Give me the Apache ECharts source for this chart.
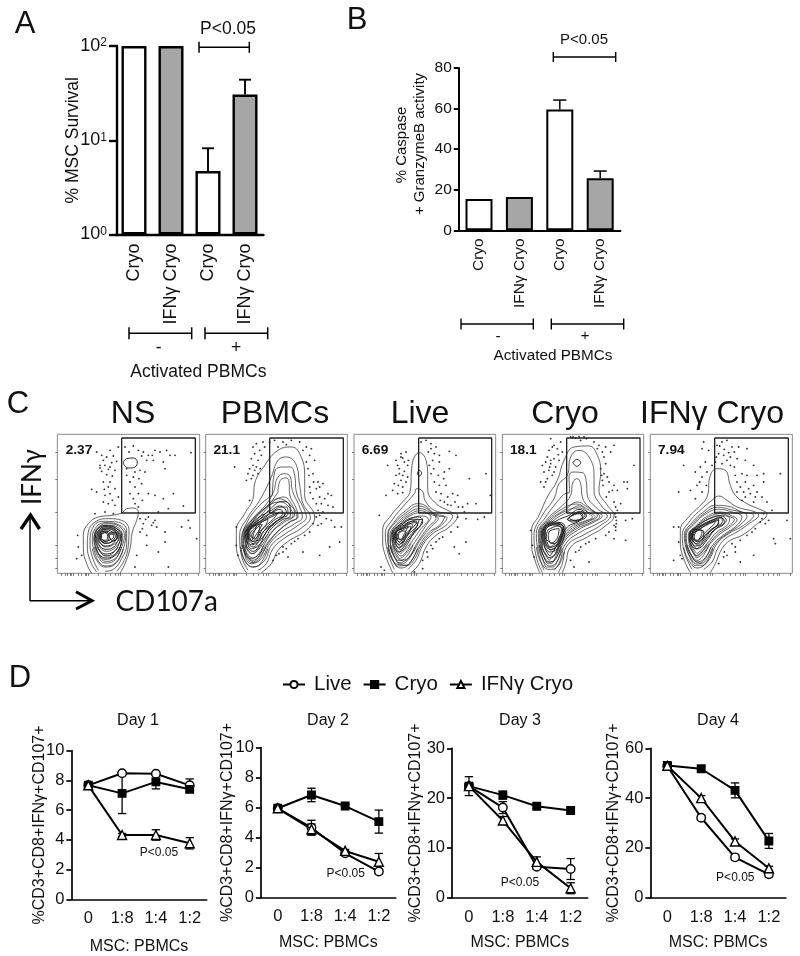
<!DOCTYPE html>
<html><head><meta charset="utf-8">
<style>html,body{margin:0;padding:0;background:#fff}#c{width:800px;height:956px}</style>
<script src="https://cdn.jsdelivr.net/npm/echarts@6/dist/echarts.min.js"></script>
</head><body><div id="c"></div>
<script>
// ---------- Panel A / B ----------
const barCats = ['Cryo','IFNγ Cryo','Cryo','IFNγ Cryo'];
const survival = [100,100,4.72,30.5];
const survivalErr = [0,0,3.5,13.4];
const caspase = [15.4,16.4,59.6,25.7];
const caspaseErr = [0,0,4.6,3.5];
const barFills = ['#ffffff','#a6a6a6','#ffffff','#a6a6a6'];
// ---------- Panel D ----------
const ratios = ['0','1:8','1:4','1:2'];
const d1Live=[7.67,8.48,8.45,7.67], d1LiveErr=[0.1,0.05,0.05,0.43];
const d1Cryo=[7.67,7.13,7.9,7.4],  d1CryoErr=[0.1,1.36,0.47,0.2];
const d1Ifn =[7.67,4.33,4.33,3.77], d1IfnErr=[0.1,0.1,0.35,0.38];
const d2Live=[5.95,4.65,2.94,1.72], d2LiveErr=[0.1,0.5,0.1,0.15];
const d2Cryo=[5.95,6.84,6.1,5.06],  d2CryoErr=[0.1,0.45,0.1,0.77];
const d2Ifn =[5.95,4.55,3.1,2.38],  d2IfnErr=[0.1,0.35,0.1,0.55];
const d3Live=[22.4,18.1,6.2,5.76],  d3LiveErr=[1.9,1.2,0.5,2.1];
const d3Cryo=[22.4,20.6,18.35,17.5],d3CryoErr=[0.5,0.8,0.5,0.5];
const d3Ifn =[22.4,15.5,7.2,1.9],   d3IfnErr=[0.5,0.8,1,1.1];
const d4Live=[52.9,32.1,16.2,9.4],  d4LiveErr=[1,1,1,1];
const d4Cryo=[53.1,51.8,43.1,22.8], d4CryoErr=[1,1,3,3];
const d4Ifn =[53,40,22.6,11.8],     d4IfnErr=[1,1,1,0.8];
// ---------- Panel C: flow cytometry channels ----------
const flowTickX=[20,30,38,45,50,55,70,80,90,95,100,130,150,165,180,190,197,230,250,265,280,290,295,330,350,365,380,390,396,430];
const flowTickY=[60,142,240,340,380,410];
const gateNS=[[200,18],[421,18],[421,243],[200,243],[200,18]];
const gatePB=[[200,18],[421,18],[421,243],[200,243],[200,18]];
const gateLive=[[203,18],[422,18],[422,243],[203,243],[203,18]];
const gateCryo=[[203,18],[423,18],[423,243],[203,243],[203,18]];
const gateIfn=[[203,18],[424,18],[424,243],[203,243],[203,18]];
const arcsNS=[[[112,350],[125,385],[150,405],[178,398],[205,350]],[[118,345],[130,375],[150,393],[175,388],[200,345]],[[122,345],[133,370],[150,382],[172,376],[195,345]],[[126,345],[136,360],[150,372],[170,366],[190,345]]];
const arcsPB=[[[112,345],[125,385],[150,405],[172,395],[195,350]],[[118,340],[130,375],[150,392],[168,382],[188,345]],[[122,340],[133,365],[150,378],[165,368],[182,340]],[[126,340],[136,355],[150,365],[162,355],[176,335]]];
const arcsLive=[[[110,345],[125,385],[150,408],[175,395],[200,350]],[[116,340],[130,375],[150,396],[172,382],[192,345]],[[120,340],[133,368],[150,385],[168,372],[186,340]],[[125,340],[136,358],[150,372],[165,360],[180,335]]];
const arcsCryo=[[[112,345],[125,390],[150,412],[175,405],[195,360]],[[118,340],[130,380],[152,402],[172,392],[190,350]],[[122,340],[134,372],[153,390],[170,380],[186,345]],[[126,340],[138,362],[154,378],[168,368],[182,340]]];
const arcsIfn=[[[110,345],[125,385],[150,408],[175,395],[198,350]],[[116,340],[130,375],[150,396],[172,384],[192,345]],[[120,340],[133,368],[150,385],[168,372],[186,340]],[[125,340],[136,358],[150,372],[165,360],[180,335]]];
const contoursNS=[
[[110,424],[95,395],[85,350],[85,310],[100,275],[130,255],[170,250],[200,243],[215,230],[235,228],[250,240],[245,265],[232,300],[225,350],[210,395],[195,424]],
[[125,420],[105,385],[97,340],[100,300],[120,270],[160,260],[200,265],[222,295],[220,340],[208,385],[185,418]],
[[130,415],[112,375],[105,330],[112,290],[140,268],[185,270],[215,295],[215,335],[200,380],[175,412],[150,418]],
[[122,370],[112,325],[120,290],[150,272],[190,278],[212,305],[205,350],[185,390],[150,402],[132,390]],
[[125,350],[118,315],[130,285],[160,275],[195,285],[208,310],[198,350],[180,380],[150,388]],
[[128,340],[122,310],[135,285],[165,280],[195,292],[202,315],[190,355],[165,372],[140,365]],
[[130,330],[127,305],[140,288],[168,283],[192,297],[197,318],[182,345],[155,358],[138,350]],
[[133,325],[130,303],[145,290],[170,287],[188,300],[192,318],[175,338],[150,345]],
[[135,318],[134,303],[150,292],[172,291],[184,302],[186,316],[170,330],[148,334]],
[[128,362],[150,378],[178,372],[195,345],[200,310],[185,290],[150,280],[125,295],[117,325]],
[[131,350],[150,366],[175,360],[192,335],[196,312],[180,293],[150,284],[128,298],[121,322]],
[[134,342],[150,352],[172,348],[188,328],[192,312],[176,296],[150,288],[131,302],[125,320]],
[[137,335],[152,342],[170,338],[184,322],[187,312],[172,300],[150,293],[135,304],[129,318]],
[[139,328],[152,334],[168,330],[180,318],[182,310],[168,303],[150,297],[138,306],[133,317]],
[[141,322],[150,328],[165,324],[176,315],[177,309],[165,306],[150,301],[141,308],[137,315]],
[[137,322],[136,305],[148,298],[160,305],[162,320],[150,330]],
[[140,320],[139,307],[148,302],[157,308],[158,320],[148,325]],
[[163,310],[175,300],[188,308],[185,322],[170,325]],
[[205,90],[215,80],[235,78],[247,90],[240,105],[222,108],[208,100]]];
const dotsNS=[[125,60],[190,45],[165,55],[140,70],[155,75],[175,72],[185,88],[170,92],[135,100],[150,100],[165,105],[180,115],[140,118],[155,128],[145,150],[165,150],[160,165],[180,170],[110,172],[125,180],[150,190],[165,185],[190,195],[145,210],[160,215],[180,220],[150,240],[175,245],[120,245],[210,45],[235,42],[250,55],[265,60],[280,70],[300,55],[315,60],[335,55],[345,70],[360,70],[408,62],[275,85],[295,85],[325,90],[330,110],[255,115],[270,120],[215,130],[235,135],[260,155],[240,165],[225,185],[250,185],[280,185],[300,190],[325,200],[355,185],[240,215],[250,225],[385,222],[340,230],[310,240],[215,110],[255,260],[280,255],[300,265],[265,275],[290,280],[305,285],[255,300],[275,310],[330,300],[330,330],[380,285],[400,265],[405,288],[425,320],[310,360],[275,340],[68,310],[70,345],[65,380],[80,370],[245,370],[240,405],[340,405],[145,85],[160,112],[172,132],[148,172],[172,205],[135,108],[222,60],[260,72],[292,70],[240,120],[225,150],[252,140],[235,200],[262,205],[272,262],[295,272],[262,290]];
const contoursPB=[
[[130,422],[112,390],[100,340],[100,295],[125,245],[150,200],[155,155],[185,100],[225,55],[265,45],[290,65],[305,130],[305,190],[335,255],[310,295],[260,325],[225,355],[205,395],[175,422]],
[[135,415],[115,370],[110,310],[135,255],[170,205],[205,135],[225,85],[250,75],[278,95],[290,160],[300,215],[322,255],[295,288],[245,318],[210,350],[190,395],[165,415]],
[[208,190],[215,120],[235,105],[262,105],[275,130],[280,180],[305,235],[310,255],[285,280],[240,310],[205,340],[185,385],[150,405],[125,385],[115,330],[125,285],[165,225]],
[[215,170],[225,135],[245,125],[262,135],[268,175],[290,225],[298,255],[275,275],[235,300],[200,335],[175,380],[145,395],[125,365],[122,310],[150,260],[195,210]],
[[225,180],[232,145],[250,138],[258,150],[260,185],[280,230],[285,255],[262,268],[228,295],[195,330],[170,365],[145,380],[128,350],[128,305],[155,262],[200,215]],
[[130,372],[118,335],[120,300],[145,265],[190,225],[225,200],[268,225],[282,255],[258,272],[225,298],[195,335],[172,370],[148,385]],
[[215,205],[240,195],[265,215],[275,250],[250,262],[220,285],[190,320],[165,355],[145,365],[130,335],[133,300],[165,260]],
[[138,378],[122,345],[124,305],[150,265],[195,222],[232,210],[258,225],[270,252],[245,270],[212,295],[185,335],[168,372],[150,390]],
[[225,210],[245,208],[262,230],[262,250],[235,265],[205,290],[185,320],[160,345],[145,350],[133,325],[138,295],[170,262],[205,228]],
[[228,225],[250,225],[255,245],[228,262],[200,285],[180,315],[158,335],[143,338],[136,318],[142,292],[175,265],[210,238]],
[[132,345],[125,315],[132,290],[165,258],[205,235],[230,222],[250,240],[225,265],[190,300],[172,335],[150,358]],
[[135,335],[128,312],[136,288],[170,262],[210,240],[232,232],[240,244],[212,266],[182,298],[168,325],[150,345]],
[[138,325],[131,310],[140,288],[172,268],[210,248],[225,244],[210,262],[178,292],[165,318],[150,335]],
[[140,318],[134,305],[144,288],[170,272],[195,262],[188,280],[170,300],[160,318],[148,328]],
[[143,312],[138,302],[148,288],[168,278],[178,278],[168,295],[158,310],[150,320]],
[[136,320],[134,295],[150,280],[160,282],[152,305],[146,325]],
[[148,295],[180,268],[215,250],[235,240],[245,248],[215,272],[180,300],[165,325],[148,328],[140,310]],
[[150,300],[170,280],[165,310],[155,320],[146,310]]];
const dotsPB=[[160,35],[180,30],[150,45],[170,55],[185,45],[155,65],[145,80],[165,85],[160,105],[135,125],[150,130],[165,125],[130,145],[145,140],[155,115],[140,205],[95,105],[215,25],[240,30],[265,25],[290,30],[310,45],[325,50],[320,70],[335,85],[310,90],[225,45],[315,110],[330,125],[345,150],[360,155],[320,165],[340,170],[375,185],[385,190],[350,195],[330,200],[355,215],[375,220],[390,225],[345,235],[360,240],[340,255],[370,260],[355,275],[395,285],[415,285],[345,280],[320,300],[285,320],[265,335],[250,350],[240,360],[220,370],[210,385],[380,345],[350,370],[100,340],[105,370],[300,360],[410,330],[255,375],[175,70],[150,100],[140,110],[172,110],[200,30],[250,38],[300,55],[318,130],[332,150],[350,165],[322,182],[365,200],[340,215],[350,250],[385,265],[330,275],[305,310],[275,328],[240,345],[228,365],[100,285]];
const contoursLive=[
[[125,422],[105,375],[95,330],[95,295],[120,250],[150,215],[178,175],[182,110],[190,75],[205,62],[225,85],[230,130],[230,170],[250,210],[300,240],[320,250],[295,285],[255,310],[225,345],[205,395],[180,422]],
[[130,412],[110,360],[103,305],[125,262],[155,225],[190,185],[197,170],[215,178],[222,205],[250,235],[305,252],[285,280],[245,305],[215,340],[195,385],[170,412]],
[[135,402],[115,355],[110,310],[130,270],[165,235],[200,215],[225,222],[250,245],[280,255],[265,280],[235,300],[205,340],[185,380],[165,400]],
[[132,395],[113,350],[112,308],[133,272],[168,240],[203,222],[228,230],[255,250],[288,258],[268,282],[240,302],[210,340],[190,382],[168,400]],
[[140,392],[120,345],[117,310],[138,275],[170,245],[205,230],[232,238],[255,258],[232,285],[200,330],[178,370],[160,388]],
[[138,385],[118,340],[120,308],[142,276],[175,248],[208,236],[236,246],[262,260],[240,284],[205,328],[182,368],[160,384]],
[[145,380],[125,340],[122,310],[145,278],[180,250],[210,242],[240,255],[225,280],[195,325],[170,360],[155,375]],
[[148,365],[130,335],[128,310],[150,282],[185,258],[215,252],[232,262],[210,290],[185,325],[165,350]],
[[150,355],[133,330],[132,308],[155,285],[190,265],[215,262],[205,285],[175,320],[160,342]],
[[150,345],[135,325],[135,305],[158,288],[190,272],[200,275],[170,310],[158,330]],
[[140,360],[125,330],[124,305],[148,278],[180,258],[205,255],[215,268],[190,300],[170,335],[155,355]],
[[142,348],[128,325],[127,305],[150,280],[185,262],[205,262],[195,288],[170,320],[155,342]],
[[144,338],[130,318],[131,303],[152,284],[185,268],[198,270],[172,302],[156,330]],
[[146,330],[132,315],[134,303],[155,287],[178,275],[185,280],[165,305],[152,325]],
[[136,318],[136,300],[155,290],[172,282],[160,305],[148,322]],
[[150,335],[138,320],[140,305],[160,292],[180,282],[175,300],[160,320]],
[[150,325],[142,315],[145,303],[158,297],[165,305],[158,318]],
[[205,115],[212,122],[205,132],[199,124]]];
const dotsLive=[[165,60],[150,65],[135,85],[150,75],[160,90],[170,100],[140,100],[110,100],[145,125],[155,130],[135,130],[150,145],[165,150],[130,155],[155,165],[125,175],[105,190],[140,185],[210,30],[225,25],[240,35],[240,50],[250,65],[265,70],[295,58],[315,70],[245,85],[265,90],[280,120],[295,110],[240,125],[250,150],[265,160],[285,160],[255,180],[270,185],[290,195],[305,185],[320,190],[280,210],[300,220],[335,225],[350,215],[375,215],[405,125],[418,190],[355,140],[320,255],[345,260],[380,262],[400,255],[320,285],[300,300],[275,315],[255,330],[245,350],[230,375],[215,385],[310,345],[345,330],[325,365],[90,405],[100,415],[190,420],[215,410],[85,250],[155,78],[172,85],[145,110],[160,118],[170,135],[142,160],[155,182],[232,60],[255,45],[235,100],[248,110],[262,130],[278,140],[268,205],[290,218],[312,210],[322,225],[340,240],[265,320],[240,340],[228,360]];
const contoursCryo=[
[[122,422],[108,385],[98,340],[98,295],[120,250],[145,195],[175,145],[195,85],[225,45],[270,42],[295,70],[305,120],[300,175],[325,220],[345,250],[315,285],[265,315],[215,345],[200,395],[190,422]],
[[130,422],[112,375],[105,310],[130,250],[165,200],[180,155],[205,130],[215,75],[240,55],[270,75],[285,130],[285,175],[310,225],[335,250],[305,280],[255,308],[205,340],[190,395],[178,422]],
[[135,415],[118,360],[112,305],[140,255],[178,205],[198,185],[212,180],[210,135],[222,120],[250,122],[262,150],[265,190],[295,230],[325,252],[295,275],[245,300],[200,335],[182,390],[165,415]],
[[140,405],[122,350],[118,305],[148,258],[190,220],[215,190],[222,150],[235,140],[245,155],[250,195],[280,235],[310,252],[285,270],[235,295],[195,330],[178,380],[160,405]],
[[145,395],[126,345],[124,305],[155,262],[200,232],[235,210],[260,222],[295,252],[270,268],[225,290],[190,325],[172,370],[155,395]],
[[142,390],[124,345],[121,305],[152,260],[195,228],[232,216],[265,232],[302,254],[278,270],[228,293],[192,328],[175,372],[155,390]],
[[150,385],[130,340],[130,305],[165,265],[205,240],[240,222],[270,245],[280,255],[255,268],[215,285],[185,325],[168,365]],
[[148,378],[128,340],[127,304],[160,263],[202,236],[238,228],[265,240],[288,254],[262,268],[220,288],[187,325],[170,365]],
[[152,372],[135,335],[135,300],[170,268],[210,250],[240,232],[262,252],[240,268],[205,285],[185,320],[165,355]],
[[205,262],[225,245],[245,238],[258,250],[240,265],[220,270]],
[[210,258],[240,242],[252,252],[228,266]],
[[212,255],[240,245],[250,255],[225,265],[205,262]],
[[135,340],[128,310],[135,285],[155,270],[185,272],[198,285],[195,315],[175,350],[152,360]],
[[137,335],[131,308],[138,285],[158,273],[185,276],[194,288],[190,315],[172,345],[152,352]],
[[139,328],[134,306],[141,285],[160,276],[184,279],[191,290],[185,315],[170,340],[152,346]],
[[141,322],[137,305],[144,287],[162,279],[182,283],[187,292],[180,318],[166,335]],
[[155,355],[138,325],[140,295],[155,280],[180,275],[195,290],[185,320],[170,345]],
[[152,345],[142,320],[145,298],[160,287],[178,282],[190,295],[180,320],[165,338]],
[[155,335],[148,315],[150,300],[165,292],[180,290],[178,310],[165,330]],
[[222,92],[233,82],[245,92],[233,103]]];
const dotsCryo=[[155,20],[185,30],[165,40],[150,55],[175,50],[190,60],[145,75],[165,80],[180,85],[155,95],[170,105],[130,100],[150,115],[125,150],[145,140],[135,165],[160,130],[215,15],[230,18],[255,15],[245,25],[285,30],[300,40],[320,45],[310,60],[335,60],[345,40],[320,95],[305,110],[310,145],[315,125],[330,150],[345,160],[375,150],[385,150],[405,100],[330,180],[355,175],[385,170],[345,210],[365,215],[355,235],[350,255],[352,265],[345,280],[380,265],[350,295],[320,310],[345,320],[380,325],[290,320],[270,330],[245,345],[230,360],[215,385],[225,405],[270,390],[95,295],[100,340],[105,375],[400,260],[160,45],[178,68],[155,85],[140,90],[135,120],[152,105],[165,120],[140,150],[222,15],[240,14],[262,20],[295,50],[315,75],[308,130],[325,135],[340,175],[312,160],[322,195],[350,225],[348,245],[352,275],[350,285],[330,300],[260,335],[240,355]];
const contoursIfn=[
[[130,422],[110,380],[100,330],[100,295],[125,255],[155,225],[180,195],[190,130],[210,110],[235,115],[250,160],[265,190],[300,215],[345,235],[360,245],[325,280],[285,310],[250,325],[225,350],[205,395],[190,422]],
[[135,412],[112,360],[106,310],[128,268],[165,230],[195,205],[215,192],[240,205],[270,225],[325,240],[335,250],[310,272],[270,300],[235,320],[212,350],[195,390],[170,412]],
[[140,400],[118,350],[112,310],[135,272],[172,238],[205,220],[240,222],[285,240],[320,250],[290,280],[245,305],[210,335],[188,380],[165,400]],
[[142,385],[120,345],[115,310],[138,275],[175,242],[210,226],[248,232],[300,252],[280,278],[240,305],[205,335],[184,375],[162,394]],
[[145,390],[122,345],[118,310],[140,278],[178,245],[215,232],[255,240],[285,255],[270,280],[235,305],[200,335],[180,370],[160,388]],
[[148,378],[128,340],[124,310],[148,280],[185,250],[220,240],[255,252],[270,262],[250,285],[220,305],[190,335],[172,360],[155,375]],
[[148,372],[130,338],[127,310],[150,282],[187,254],[221,245],[252,256],[262,262],[245,283],[215,303],[186,335],[168,356]],
[[150,365],[132,335],[130,310],[152,283],[190,258],[222,250],[248,260],[240,280],[210,300],[180,335],[165,352]],
[[150,352],[135,330],[135,308],[155,287],[195,265],[225,258],[232,272],[200,295],[172,328],[160,342]],
[[142,350],[128,328],[127,308],[150,283],[188,260],[220,252],[238,264],[205,292],[175,330],[158,348]],
[[144,342],[130,322],[130,306],[152,286],[190,266],[222,256],[226,268],[195,292],[170,324],[156,340]],
[[146,335],[133,318],[134,305],[155,288],[190,270],[215,262],[215,272],[188,296],[168,318],[155,332]],
[[147,328],[136,316],[138,304],[156,292],[185,276],[205,268],[200,278],[178,298],[162,318]],
[[138,322],[135,303],[152,292],[165,296],[162,312],[150,325]],
[[150,340],[138,322],[140,305],[160,290],[190,272],[215,265],[210,280],[180,305],[165,325]],
[[150,330],[142,317],[145,303],[158,295],[170,297],[170,315],[160,325]]];
const dotsIfn=[[170,30],[165,50],[185,55],[210,40],[225,30],[240,25],[255,45],[275,45],[300,50],[215,65],[230,70],[250,75],[270,80],[295,85],[320,100],[205,90],[225,95],[250,100],[175,90],[160,105],[110,100],[195,100],[145,120],[165,135],[150,160],[165,180],[130,175],[145,200],[95,180],[265,130],[285,125],[300,130],[330,130],[270,150],[295,150],[320,160],[350,150],[400,125],[350,125],[270,180],[290,180],[310,185],[330,180],[345,195],[360,210],[285,205],[320,210],[375,235],[350,245],[365,265],[340,270],[325,290],[300,310],[280,325],[265,345],[240,370],[230,375],[380,320],[430,320],[420,265],[385,335],[80,285],[95,285],[95,330],[100,370],[80,385],[105,380],[215,395],[280,390],[320,370],[218,42],[232,52],[245,62],[262,60],[208,75],[240,85],[262,105],[180,120],[158,150],[178,160],[280,165],[305,170],[325,195],[295,195],[345,260],[355,275],[315,300],[255,335],[232,360],[265,360]];

const FONT='"Liberation Sans",Arial,sans-serif', INK='#111';
const grid=[],xAxis=[],yAxis=[],series=[],title=[],graphic=[];

function errorBars(xi,yi,values,errs,both,capPx,lw,z){
  series.push({type:'custom',xAxisIndex:xi,yAxisIndex:yi,z:z,silent:true,
    data:values.map((v,i)=>[i,both?v-errs[i]:v,v+errs[i]]).filter((d,i)=>errs[i]>0),
    encode:{x:0,y:[1,2]},
    renderItem:(p,api)=>{
      const lo=api.coord([api.value(0),api.value(1)]),hi=api.coord([api.value(0),api.value(2)]);
      const seg=(a,b,c,d)=>({type:'line',shape:{x1:a,y1:b,x2:c,y2:d},style:{stroke:'#000',lineWidth:lw}});
      const kids=[seg(lo[0],lo[1],hi[0],hi[1]),seg(hi[0]-capPx,hi[1],hi[0]+capPx,hi[1])];
      if(both)kids.push(seg(lo[0]-capPx,lo[1],lo[0]+capPx,lo[1]));
      return {type:'group',children:kids};
    }});
}
function barPanel(o){
  const i=grid.length;
  grid.push({left:o.left,top:o.top,width:o.width,height:o.height,containLabel:false});
  xAxis.push({gridIndex:i,type:'category',data:barCats,axisLine:{lineStyle:{color:'#000',width:o.lw}},
    axisTick:{alignWithLabel:true,length:o.xTick,lineStyle:{color:'#000',width:o.lw}},
    axisLabel:{rotate:90,interval:0,margin:o.xMargin,fontFamily:FONT,fontSize:o.font,color:INK}});
  yAxis.push(Object.assign({gridIndex:i,axisLine:{show:true,lineStyle:{color:'#000',width:o.lw}},splitLine:{show:false},
    axisTick:{show:true,length:o.yTick,lineStyle:{color:'#000',width:o.lw}},offset:o.offset||0},o.y));
  series.push({type:'bar',xAxisIndex:i,yAxisIndex:i,data:o.data,barWidth:o.bar,z:3,
    itemStyle:{color:p=>barFills[p.dataIndex],borderColor:'#000',borderWidth:o.lw}});
  errorBars(i,i,o.data,o.err,false,o.cap,o.lw-0.5,2);
}
barPanel({left:115.5,top:46,width:148,height:188.5,lw:2.4,xTick:6,yTick:8,xMargin:9,font:18,bar:25,cap:6,offset:-1.5,
  data:survival,err:survivalErr,
  y:{type:'log',logBase:10,min:1,max:100,axisLabel:{margin:10,fontFamily:FONT,fontSize:18,color:INK,
     formatter:v=>'10{s|'+Math.round(Math.log10(v))+'}',
     rich:{s:{fontSize:12,fontFamily:FONT,color:INK,verticalAlign:'bottom',padding:[0,0,6,0]}}},
     name:'% MSC Survival',nameLocation:'middle',nameGap:35,nameMoveOverlap:false,
     nameTextStyle:{fontFamily:FONT,fontSize:17.5,color:INK}}});
barPanel({left:458.8,top:68,width:161.6,height:162.3,lw:2,xTick:5,yTick:5,xMargin:8,font:15.5,bar:27,cap:6.5,
  data:caspase,err:caspaseErr,
  y:{type:'value',min:0,max:80,interval:20,axisLabel:{margin:7,fontFamily:FONT,fontSize:15.5,color:INK}}});

// Flow plots: channel coordinates, y counted from top of the plot
function flowPanel(cx,cy,xMin,xMax,contours,arcs,dots,gate){
  const i=grid.length;
  const yMin=7,yMax=424;
  grid.push({show:true,backgroundColor:'#fff',borderColor:'#8a8a8a',borderWidth:1,left:cx+xMin/3,top:cy+yMin/3,width:(xMax-xMin)/3,height:(yMax-yMin)/3});
  xAxis.push({gridIndex:i,type:'value',min:xMin,max:xMax,position:'bottom',axisLine:{show:false},splitLine:{show:false},axisLabel:{show:false},
    axisTick:{show:true,length:2.5,customValues:flowTickX,lineStyle:{color:'#555',width:0.8}}});
  yAxis.push({gridIndex:i,type:'value',inverse:true,min:yMin,max:yMax,position:'left',axisLine:{show:false},splitLine:{show:false},axisLabel:{show:false},
    axisTick:{show:true,length:2,customValues:flowTickY,lineStyle:{color:'#555',width:0.8}}});
  series.push({type:'scatter',xAxisIndex:i,yAxisIndex:i,data:dots,symbolSize:1.9,z:2,itemStyle:{color:'#000'},silent:true});
  const common={type:'line',xAxisIndex:i,yAxisIndex:i,showSymbol:false,symbol:'none',smooth:0.45,silent:true,z:3};
  contours.forEach((c,k)=>{
    const open=c[0][1]>405&&c[c.length-1][1]>405;
    series.push(Object.assign({},common,{data:open?c:c.concat([c[0]]),lineStyle:{color:'#222',width:k>=8?0.95:0.7}}));
  });
  arcs.forEach(c=>series.push(Object.assign({},common,{data:c,lineStyle:{color:'#222',width:0.7}})));
  series.push({type:'line',xAxisIndex:i,yAxisIndex:i,data:gate,showSymbol:false,symbol:'none',silent:true,z:4,lineStyle:{color:'#222',width:1.3}});
}
flowPanel(55,432,7,434,contoursNS,arcsNS,dotsNS,gateNS);
flowPanel(203,432,8,433,contoursPB,arcsPB,dotsPB,gatePB);
flowPanel(351,432,9,434,contoursLive,arcsLive,dotsLive,gateLive);
flowPanel(499,432,10,434,contoursCryo,arcsCryo,dotsCryo,gateCryo);
flowPanel(647,432,10,436,contoursIfn,arcsIfn,dotsIfn,gateIfn);

// Dose-response panels
function dayPanel(o){
  const i=grid.length;
  grid.push({left:o.left,top:o.top,width:o.width,height:o.height});
  const lab={fontFamily:FONT,fontSize:16.5,color:INK};
  xAxis.push({gridIndex:i,type:'category',data:ratios,boundaryGap:true,
    axisLine:{lineStyle:{color:'#000',width:1.7}},axisTick:{alignWithLabel:true,length:5,lineStyle:{color:'#000',width:1.7}},
    axisLabel:Object.assign({margin:11,interval:0},lab),
    name:'MSC: PBMCs',nameLocation:'middle',nameGap:o.xGap,nameMoveOverlap:false,nameTextStyle:{fontFamily:FONT,fontSize:16,color:INK}});
  yAxis.push({gridIndex:i,type:'value',min:0,max:o.max,interval:o.step,splitLine:{show:false},
    axisLine:{show:true,lineStyle:{color:'#000',width:1.7}},axisTick:{show:true,length:5,lineStyle:{color:'#000',width:1.7}},
    axisLabel:Object.assign({margin:7},lab),
    name:'%CD3+CD8+IFNγ+CD107+',nameLocation:'middle',nameGap:o.yGap,nameMoveOverlap:false,nameTextStyle:{fontFamily:FONT,fontSize:16,color:INK}});
  const sty=[['Live','circle',8.5,'#fff'],['Cryo','rect',7.5,'#000'],['IFNγ Cryo','triangle',9,'#fff']];
  o.sets.forEach((s,k)=>{
    errorBars(i,i,s[0],s[1],true,4.2,1.3,5);
    series.push({type:'line',name:sty[k][0],xAxisIndex:i,yAxisIndex:i,data:s[0],symbol:sty[k][1],symbolSize:sty[k][2],showSymbol:true,z:6+k,
      lineStyle:{color:'#000',width:2},itemStyle:{color:sty[k][3],borderColor:'#000',borderWidth:1.4}});
  });
}
dayPanel({left:71.4,top:750.7,width:135.2,height:148.6,max:10,step:2,xGap:39,yGap:24,sets:[[d1Live,d1LiveErr],[d1Cryo,d1CryoErr],[d1Ifn,d1IfnErr]]});
dayPanel({left:260.9,top:747.7,width:134.8,height:149.6,max:10,step:2,xGap:37,yGap:25,sets:[[d2Live,d2LiveErr],[d2Cryo,d2CryoErr],[d2Ifn,d2IfnErr]]});
dayPanel({left:452,top:748.3,width:135.6,height:149.4,max:30,step:10,xGap:37,yGap:28,sets:[[d3Live,d3LiveErr],[d3Cryo,d3CryoErr],[d3Ifn,d3IfnErr]]});
dayPanel({left:650.4,top:748.3,width:135.4,height:149.4,max:60,step:20,xGap:37,yGap:28.5,sets:[[d4Live,d4LiveErr],[d4Cryo,d4CryoErr],[d4Ifn,d4IfnErr]]});

// Titles
function addTitle(t,x,y,size,fam,w){title.push({text:t,left:x,top:y,textAlign:'center',textVerticalAlign:'middle',padding:0,
  textStyle:{fontFamily:fam||FONT,fontSize:size,fontWeight:w||'normal',color:INK}});}
[['NS',133],['PBMCs',275],['Live',420],['Cryo',565],['IFNγ Cryo',712]].forEach(t=>addTitle(t[0],t[1],414,32));
[['Day 1',138],['Day 2',328],['Day 3',520],['Day 4',718]].forEach(t=>addTitle(t[0],t[1],721,16));
[['A',25,24,31],['B',357,20,31],['C',18,404,31],['D',20,678,31]].forEach(t=>addTitle(t[0],t[1],t[2],t[3]));

// Annotations
function txt(s,x,y,size,opt){graphic.push(Object.assign({type:'text',x:x,y:y,silent:true,z:50,
  style:{text:s,fontFamily:FONT,fontSize:size,fill:INK,align:'center',verticalAlign:'middle'}},opt||{}));}
function bracket(x1,x2,y,cap,lw){graphic.push({type:'polyline',silent:true,z:50,shape:{points:[[x1,y-cap],[x1,y+cap]]},style:{stroke:'#000',lineWidth:lw,fill:null}},
 {type:'polyline',silent:true,z:50,shape:{points:[[x2,y-cap],[x2,y+cap]]},style:{stroke:'#000',lineWidth:lw,fill:null}},
 {type:'polyline',silent:true,z:50,shape:{points:[[x1,y],[x2,y]]},style:{stroke:'#000',lineWidth:lw,fill:null}});}
function stroke(points,lw){graphic.push({type:'polyline',silent:true,z:50,shape:{points:points},style:{stroke:'#000',lineWidth:lw,fill:null}});}
txt('P<0.05',228,29,17.5); bracket(199,249.3,47.3,5.5,1.5);
bracket(129,191.7,333.3,6,1.5); bracket(205,267.7,333.3,6,1.5);
txt('-',158.7,348,17.5); txt('+',236,348,17.5); txt('Activated PBMCs',198.3,372,17.5);
txt('P<0.05',584,40,15); bracket(553.3,615.7,57,5,1.4);
bracket(461,533.3,324,5.5,1.4); bracket(551.3,623.7,324,5.5,1.4);
txt('-',498,337,15.5); txt('+',585,336,15.5); txt('Activated PBMCs',553,356,15.3);
txt('% Caspase',402,145,15,{rotation:Math.PI/2});
txt('+ GranzymeB activity',420,144,15,{rotation:Math.PI/2});
[['2.37',79,450],['21.1',226.7,450],['6.69',375,450],['18.1',523.3,450],['7.94',671.3,450]].forEach(t=>graphic.push({type:'text',x:t[1],y:t[2],silent:true,z:50,
  style:{text:t[0],fontFamily:FONT,fontSize:13.7,fontWeight:'bold',fill:INK,align:'center',verticalAlign:'middle'}}));
txt('IFNγ',33,477,26,{rotation:Math.PI/2,style:{text:'IFNγ',fontFamily:'Lato',fontSize:26,fill:INK,align:'center',verticalAlign:'middle'}});
txt('CD107a',166.7,601.7,27,{style:{text:'CD107a',fontFamily:'Lato',fontSize:28,fill:INK,align:'center',verticalAlign:'middle'}});
stroke([[30,601],[30,516]],1.5); stroke([[21,529],[30.5,515],[39.5,529]],3.4);
stroke([[30,600.7],[90,600.7]],1.5); stroke([[76,591.7],[92,600.7],[76,609]],3);
[['P<0.05',159,852.7],['P<0.05',345.7,874],['P<0.05',520,882.7],['P<0.05',735.3,878]].forEach(t=>txt(t[0],t[1],t[2],12));

const chart=echarts.init(document.getElementById('c'),null,{renderer:'canvas'});
chart.setOption({animation:false,backgroundColor:'#fff',textStyle:{fontFamily:FONT},
  legend:{data:['Live','Cryo','IFNγ Cryo'],left:282,top:674,itemWidth:22,itemHeight:9,itemGap:11,padding:0,selectedMode:false,
    textStyle:{fontFamily:FONT,fontSize:20.5,color:INK,padding:[0,0,0,4]}},
  title,grid,xAxis,yAxis,series,graphic:{elements:graphic}});
</script></body></html>
